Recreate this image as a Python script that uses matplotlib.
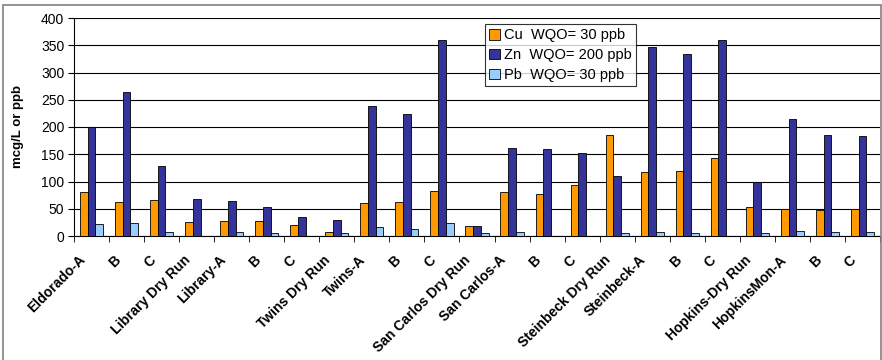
import numpy as np
import matplotlib
matplotlib.use("Agg")
import matplotlib.pyplot as plt
from matplotlib.patches import Rectangle
from matplotlib.ticker import MultipleLocator, FixedLocator

plt.rcParams['font.family'] = ['Liberation Sans', 'DejaVu Sans']

# data
sites = ["Eldorado-A", "B", "C", "Library Dry Run", "Library-A", "B", "C",
         "Twins Dry Run", "Twins-A", "B", "C", "San Carlos Dry Run",
         "San Carlos-A", "B", "C", "Steinbeck Dry Run", "Steinbeck-A", "B", "C",
         "Hopkins-Dry Run", "HopkinsMon-A", "B", "C"]
cu = [80, 63, 66, 25, 28, 28, 20, 7, 61, 63, 82, 18, 81, 77, 93, 185, 117,
      119, 144, 54, 49, 48, 49]
zn = [200, 264, 129, 68, 64, 54, 34, 29, 239, 223, 359, 18, 162, 159, 153,
      110, 346, 334, 360, 100, 215, 185, 184]
pb = [22, 24, 7, 0, 7, 5, 0, 5, 16, 12, 23, 5, 7, 0, 0, 5, 7, 6, 0, 5, 10, 7, 7]

series_names = ["Cu  WQO= 30 ppb", "Zn  WQO= 200 ppb", "Pb  WQO= 30 ppb"]
colors = ["#FF9900", "#333399", "#99CCFF"]

fig = plt.figure(figsize=(8.82, 3.6), dpi=100)
ax = fig.add_axes([74 / 882, 1 - 236 / 360, 806 / 882, 218 / 360])

x = np.arange(len(sites))
w = 0.22
for i, (vals, name, c) in enumerate(zip([cu, zn, pb], series_names, colors)):
    ax.bar(x + (i - 1) * w, vals, width=w, color=c, edgecolor="black",
           linewidth=0.6, label=name, zorder=3)

ax.set_xlim(-0.5, len(sites) - 0.5)
ax.set_ylim(0, 400)
ax.yaxis.set_major_locator(MultipleLocator(50))
ax.grid(axis="y", color="black", linewidth=0.8, zorder=0)
ax.set_axisbelow(True)

# labels sit a bit left of the category centre in the original
ax.set_xticks(x - 0.38)
ax.set_xticklabels(sites, rotation=45, ha="right", rotation_mode="anchor",
                   fontsize=10, fontweight="bold")
ax.xaxis.set_minor_locator(FixedLocator(np.arange(-0.5, len(sites), 1)))
ax.tick_params(axis="x", which="major", length=0, pad=12)
ax.tick_params(axis="x", which="minor", length=4, direction="out", color="black")
ax.tick_params(axis="y", length=4, direction="out", labelsize=10, pad=3)

ax.set_ylabel("mcg/L or ppb", fontsize=9.5, fontweight="bold", labelpad=12)

for s in ["top", "right"]:
    ax.spines[s].set_visible(False)
ax.spines["left"].set_color("black")
ax.spines["bottom"].set_color("black")

leg = ax.legend(loc="upper left", bbox_to_anchor=(411 / 806, 1 - 6 / 218),
                fontsize=10.5, frameon=True, fancybox=False, edgecolor="black",
                handlelength=0.75, handleheight=0.75, handletextpad=0.25,
                borderpad=0.3, labelspacing=0.4, borderaxespad=0)
leg.get_frame().set_linewidth(0.8)

# outer chart border
fig.patches.append(Rectangle((3 / 882, -0.05), 877.5 / 882, 1.05 - 5 / 360,
                             transform=fig.transFigure, fill=False,
                             edgecolor="#808080", linewidth=1.2))

fig.savefig("out.png", dpi=100)
